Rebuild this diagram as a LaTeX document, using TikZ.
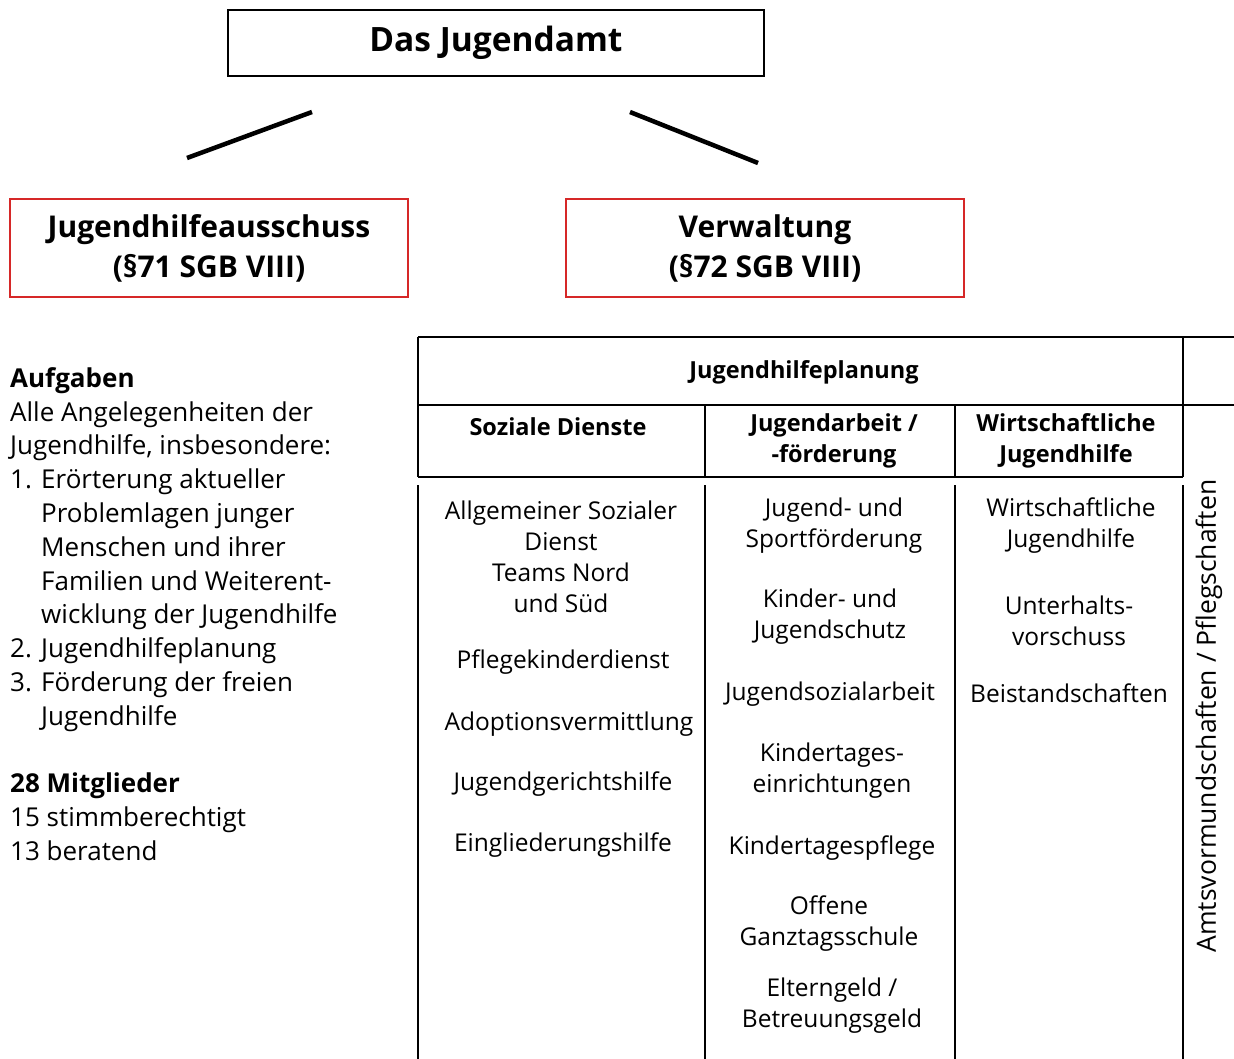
\documentclass[tikz,border=0pt]{standalone}
\usepackage{fontspec}
\setmainfont{Open Sans}
\usetikzlibrary{positioning}

\definecolor{boxred}{RGB}{214,40,40}

\tikzset{
  titlebox/.style={draw=black, line width=1.6pt, minimum width=536pt, minimum height=66pt, inner sep=0pt, font=\fontsize{33.5}{38}\selectfont\bfseries},
  redbox/.style={draw=boxred, line width=2pt, minimum width=398pt, minimum height=98pt, inner sep=0pt, align=center, font=\fontsize{30}{40}\selectfont\bfseries},
  headtext/.style={align=center, inner sep=0pt, font=\fontsize{23.5}{31}\selectfont\bfseries},
  celltext/.style={align=center, inner sep=0pt, font=\fontsize{24.5}{31}\selectfont},
  branch/.style={line width=4.5pt},
  grid/.style={line width=1.2pt}
}

\begin{document}
\begin{tikzpicture}[x=1pt,y=-1pt]
\useasboundingbox (0,0) rectangle (1234,1059);

% Top box
\node[titlebox] (amt) at (496,43) {Das Jugendamt};

% Branch lines
\coordinate (la) at (312,112);
\coordinate (lb) at (187,158);
\coordinate (ra) at (630,112);
\coordinate (rb) at (758,163);
\draw[branch] (la) -- (lb);
\draw[branch] (ra) -- (rb);

% The two red boxes
\node[redbox] (jha) at (209,248) {Jugendhilfeausschuss\\(\S71 SGB VIII)};
\node[redbox] (verw) at (765,248) {Verwaltung\\(\S72 SGB VIII)};

% Left column text
\node[anchor=west, align=left, inner sep=0pt, font=\fontsize{26}{33.8}\selectfont] (aufg) at (10,614)
  {\textbf{Aufgaben}\\
   Alle Angelegenheiten der\\
   Jugendhilfe, insbesondere:\\
   \makebox[31pt][l]{1.}Erörterung aktueller\\
   \hspace*{31pt}Problemlagen junger\\
   \hspace*{31pt}Menschen und ihrer\\
   \hspace*{31pt}Familien und Weiterent-\\
   \hspace*{31pt}wicklung der Jugendhilfe\\
   \makebox[31pt][l]{2.}Jugendhilfeplanung\\
   \makebox[31pt][l]{3.}Förderung der freien\\
   \hspace*{31pt}Jugendhilfe\\[33.8pt]
   \textbf{28 Mitglieder}\\
   15 stimmberechtigt\\
   13 beratend};

% Table lines
\draw[grid] (418,337) -- (1234,337);
\draw[grid] (418,405) -- (1234,405);
\draw[grid] (418,477) -- (1183,477);
\draw[grid] (418,337) -- (418,477);
\draw[grid] (1183,337) -- (1183,477);
\draw[grid] (705,405) -- (705,477);
\draw[grid] (955,405) -- (955,477);
\foreach \x in {418,705,955,1183}
  \draw[grid] (\x,485) -- (\x,1059);

% Table headers
\node[headtext] (plan) at (804,372) {Jugendhilfeplanung};
\node[headtext] (sozh) at (558,427) {Soziale Dienste};
\node[headtext] (jarh) at (834,441) {Jugendarbeit /\\-förderung};
\node[headtext] (wirh) at (1066,441) {Wirtschaftliche\\Jugendhilfe};

% Soziale Dienste
\node[celltext] (sd1) at (561,557) {Allgemeiner Sozialer\\Dienst\\Teams Nord\\und Süd};
\node[celltext] (sd2) at (563,662) {Pflegekinderdienst};
\node[celltext] (sd3) at (569,724) {Adoptionsvermittlung};
\node[celltext] (sd4) at (563,784) {Jugendgerichtshilfe};
\node[celltext] (sd5) at (563,845) {Eingliederungshilfe};

% Jugendarbeit / -foerderung
\node[celltext] (ja1) at (834,526) {Jugend- und\\Sportförderung};
\node[celltext] (ja2) at (830,617) {Kinder- und\\Jugendschutz};
\node[celltext] (ja3) at (830,694) {Jugendsozialarbeit};
\node[celltext] (ja4) at (832,771) {Kindertages-\\einrichtungen};
\node[celltext] (ja5) at (832,848) {Kindertagespflege};
\node[celltext] (ja6) at (829,924) {Offene\\Ganztagsschule};
\node[celltext] (ja7) at (832,1006) {Elterngeld /\\Betreuungsgeld};

% Wirtschaftliche Jugendhilfe
\node[celltext] (wj1) at (1071,526) {Wirtschaftliche\\Jugendhilfe};
\node[celltext] (wj2) at (1069,621) {Unterhalts-\\vorschuss};
\node[celltext] (wj3) at (1069,693) {Beistandschaften};

% Side column
\node[celltext, rotate=90, font=\fontsize{26.5}{31}\selectfont] (amts) at (1209,716) {Amtsvormundschaften / Pflegschaften};

\end{tikzpicture}
\end{document}
